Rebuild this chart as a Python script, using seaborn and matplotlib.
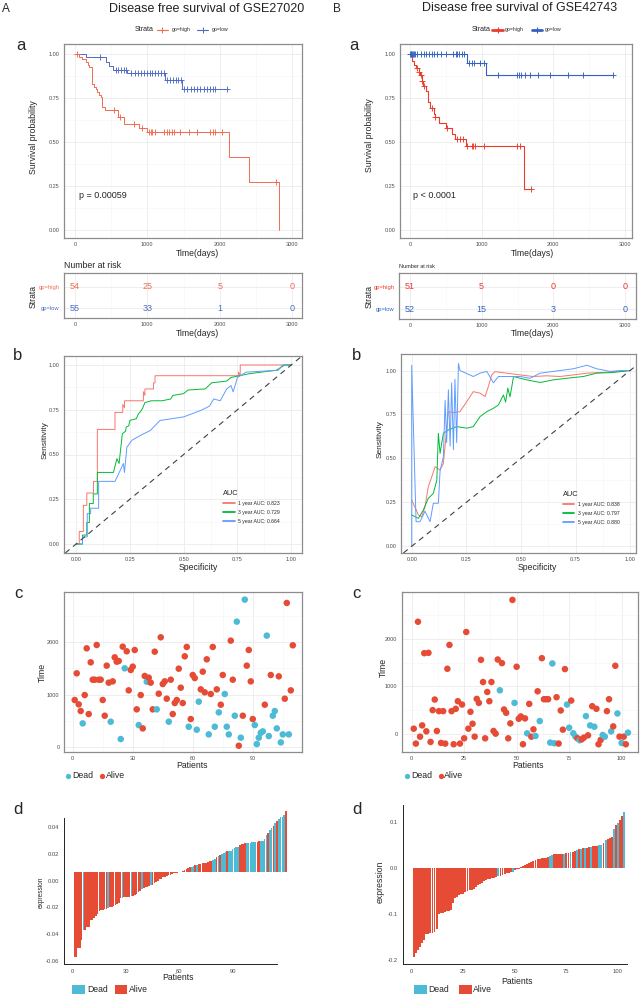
import numpy as np
import pandas as pd
import matplotlib
matplotlib.use("Agg")
from matplotlib import pyplot as plt
from matplotlib.lines import Line2D
from matplotlib.patches import Rectangle
from matplotlib.ticker import MultipleLocator, FormatStrFormatter, FixedLocator, NullLocator
import seaborn as sns

sns.set_style("white")
plt.rcParams["font.family"] = ["Liberation Sans", "DejaVu Sans"]
plt.rcParams["axes.unicode_minus"] = False

W, H = 641, 994

# colours
RED_A, BLUE_A = "#F26B4F", "#4F6BC4"
RED_B, BLUE_B = "#EE3A2A", "#3462BE"
ROC_COLS = ["#F8766D", "#00BA38", "#619CFF"]
RED, CYAN = "#E64B35", "#4DBBD5"

# ---------------- a: Kaplan-Meier
km_a_high_t = [0, 60, 95, 150, 180, 200, 230, 240, 265, 290, 310, 330, 360, 380, 410, 600, 680, 890, 990, 2130, 2400, 2820]
km_a_high_s = [1.0, 0.985, 0.97, 0.955, 0.94, 0.925, 0.91, 0.83, 0.815, 0.80, 0.785, 0.77, 0.755, 0.70, 0.68, 0.64, 0.60, 0.58, 0.555, 0.415, 0.275, 0.0]
km_a_high_end = 2820
km_a_high_cens = [30, 540, 620, 810, 925, 1020, 1045, 1070, 1100, 1225, 1265, 1300, 1335, 1370, 1445, 1570, 1685, 1860, 1910, 1940, 2030, 2775]
km_a_low_t = [0, 150, 430, 470, 520, 715, 1245, 1480]
km_a_low_s = [1.0, 0.985, 0.955, 0.93, 0.91, 0.89, 0.855, 0.80]
km_a_low_end = 2110
km_a_low_cens = [345, 560, 600, 640, 675, 705, 780, 825, 870, 910, 950, 990, 1030, 1070, 1110, 1150, 1190, 1225,
                 1275, 1310, 1350, 1390, 1430, 1470, 1510, 1550, 1600, 1640, 1690, 1730, 1780, 1830, 1870, 1910, 1940, 2100]

km_b_high_t = [0, 30, 60, 90, 120, 140, 165, 185, 220, 245, 275, 340, 350, 400, 500, 590, 625, 780, 1590]
km_b_high_s = [1.0, 0.96, 0.94, 0.92, 0.90, 0.88, 0.845, 0.82, 0.79, 0.73, 0.695, 0.66, 0.64, 0.61, 0.58, 0.545, 0.515, 0.48, 0.235]
km_b_high_end = 1684
km_b_high_cens = [95, 130, 150, 170, 195, 300, 355, 515, 650, 700, 745, 790, 860, 885, 905, 1035, 1490, 1535, 1684]
km_b_low_t = [0, 790, 1055]
km_b_low_s = [1.0, 0.95, 0.88]
km_b_low_end = 2830
km_b_low_cens = [5, 12, 20, 28, 40, 55, 75, 100, 150, 190, 225, 260, 300, 340, 380, 430, 500, 600, 640, 660, 680, 720,
                 760, 820, 860, 890, 980, 1030, 1230, 1490, 1520, 1550, 1600, 1670, 1780, 1950, 2200, 2420, 2830]

risk_times = [0, 1000, 2000, 3000]
risk_a_high = [54, 25, 5, 0]
risk_a_low = [55, 33, 1, 0]
risk_b_high = [51, 5, 0, 0]
risk_b_low = [52, 15, 3, 0]

# ---------------- b: time dependent ROC
roc_a_1y_x = [0.0, 0.015, 0.015, 0.034, 0.034, 0.05, 0.05, 0.081, 0.081, 0.099, 0.099, 0.181, 0.181, 0.217, 0.217, 0.225, 0.225,
              0.313, 0.313, 0.32, 0.32, 0.36, 0.36, 0.367, 0.367, 0.755, 0.755, 0.763, 0.763, 1.0]
roc_a_1y_y = [0.0, 0.0, 0.07, 0.07, 0.216, 0.216, 0.285, 0.285, 0.35, 0.35, 0.64, 0.64, 0.735, 0.735, 0.78, 0.76, 0.80,
              0.80, 0.85, 0.83, 0.866, 0.866, 0.90, 0.90, 0.94, 0.94, 0.96, 0.94, 1.0, 1.0]
roc_a_3y_x = [0.0, 0.03, 0.03, 0.05, 0.05, 0.062, 0.062, 0.08, 0.08, 0.099, 0.099, 0.174, 0.18, 0.19, 0.2, 0.21, 0.215, 0.23,
              0.233, 0.245, 0.25, 0.28, 0.29, 0.3, 0.31, 0.32, 0.35, 0.4, 0.44, 0.45, 0.5, 0.52, 0.6, 0.63, 0.7, 0.72,
              0.8, 0.86, 0.93, 0.97, 1.0]
roc_a_3y_y = [0.0, 0.0, 0.05, 0.05, 0.12, 0.12, 0.226, 0.226, 0.28, 0.28, 0.40, 0.40, 0.43, 0.477, 0.45, 0.56, 0.616, 0.63,
              0.653, 0.66, 0.69, 0.70, 0.727, 0.74, 0.76, 0.79, 0.80, 0.80, 0.81, 0.83, 0.84, 0.86, 0.866, 0.90, 0.91,
              0.93, 0.95, 0.96, 0.97, 1.0, 1.0]
roc_a_5y_x = [0.0, 0.03, 0.03, 0.052, 0.052, 0.068, 0.068, 0.105, 0.105, 0.181, 0.197, 0.22, 0.225, 0.236, 0.26, 0.3, 0.345,
              0.39, 0.5, 0.58, 0.62, 0.64, 0.67, 0.7, 0.72, 0.73, 0.75, 0.79, 0.94, 0.96, 1.0]
roc_a_5y_y = [0.0, 0.0, 0.04, 0.04, 0.17, 0.17, 0.20, 0.20, 0.35, 0.35, 0.39, 0.45, 0.40, 0.54, 0.58, 0.607, 0.634, 0.69,
              0.71, 0.746, 0.77, 0.81, 0.80, 0.866, 0.885, 0.85, 0.93, 0.96, 0.97, 1.0, 1.0]
roc_a_labels = ["1 year AUC: 0.823", "3 year AUC: 0.729", "5 year AUC: 0.664"]

roc_b_1y_x = [0.0, 0.031, 0.046, 0.061, 0.076, 0.092, 0.107, 0.13, 0.145, 0.168, 0.191, 0.221, 0.252, 0.282, 0.313, 0.336,
              0.351, 0.366, 0.382, 0.435, 0.496, 0.557, 0.618, 0.679, 0.74, 0.802, 0.878, 1.0]
roc_b_1y_y = [0.263, 0.178, 0.168, 0.225, 0.339, 0.396, 0.453, 0.434, 0.472, 0.766, 0.761, 0.766, 0.823, 0.88, 0.871, 0.852,
              0.909, 0.975, 0.994, 0.985, 0.975, 0.966, 0.97, 0.966, 0.975, 0.985, 0.989, 1.0]
roc_b_3y_x = [0.0, 0.031, 0.053, 0.076, 0.099, 0.115, 0.122, 0.13, 0.145, 0.168, 0.206, 0.252, 0.282, 0.313, 0.344, 0.374,
              0.397, 0.42, 0.43, 0.44, 0.45, 0.46, 0.466, 0.496, 0.527, 0.588, 0.649, 0.71, 0.786, 0.847, 0.924, 1.0]
roc_b_3y_y = [0.178, 0.159, 0.206, 0.273, 0.301, 0.377, 0.643, 0.529, 0.643, 0.662, 0.681, 0.672, 0.681, 0.738, 0.766, 0.785,
              0.804, 0.861, 0.82, 0.90, 0.85, 0.92, 0.966, 0.956, 0.947, 0.932, 0.947, 0.956, 0.966, 0.985, 0.989, 1.0]
roc_b_5y_x = [0.0, 0.0, 0.02, 0.038, 0.061, 0.084, 0.099, 0.122, 0.13, 0.145, 0.153, 0.16, 0.168, 0.176, 0.183, 0.191, 0.198,
              0.206, 0.214, 0.221, 0.282, 0.313, 0.344, 0.374, 0.397, 0.435, 0.496, 0.542, 0.588, 0.649, 0.74, 0.802,
              0.847, 0.908, 0.954, 1.0]
roc_b_5y_y = [0.0, 1.03, 0.14, 0.14, 0.20, 0.14, 0.245, 0.245, 0.43, 0.51, 0.83, 0.59, 0.89, 0.57, 0.93, 0.55, 0.95, 0.59,
              1.04, 1.0, 0.966, 0.985, 0.995, 0.93, 0.966, 0.966, 0.966, 0.956, 0.985, 0.995, 1.01, 1.03, 1.01, 0.995,
              1.0, 1.0]
roc_b_labels = ["1 year AUC: 0.838", "3 year AUC: 0.797", "5 year AUC: 0.880"]

# ---------------- c: survival time per patient
sc_a_time = [895, 1406, 812, 684, 447, 990, 1885, 626, 1617, 1284,
             1284, 1949, 1284, 1284, 895, 594, 1553, 1227, 479, 1252,
             1712, 1629, 1642, 147, 1917, 1502, 1828, 1080, 1470, 1534,
             1853, 716, 415, 990, 351, 1355, 1246, 1323, 1227, 716,
             1821, 716, 1016, 2096, 1201, 1252, 920, 479, 1284, 626,
             837, 895, 1495, 1131, 837, 1732, 1911, 383, 530, 1374,
             1316, 326, 863, 1099, 1438, 1042, 1674, 236, 1010, 1911,
             383, 1099, 658, 805, 1374, 1010, 383, 236, 2032, 1284,
             594, 2396, 19, 173, 594, 2818, 1553, 1853, 1252, 530,
             415, 51, 173, 268, 294, 805, 2128, 204, 1374, 594,
             684, 351, 1348, 83, 236, 920, 2754, 236, 1080, 1943]
sc_a_dead = [5, 19, 24, 26, 33, 37, 42, 48, 58, 62, 63, 68, 71, 73, 76, 77, 78, 81, 82, 84, 86, 91, 92, 93, 94, 95,
             97, 98, 100, 101, 102, 104, 105, 108]

sc_b_time = [112, -202, 2363, -56, 181, 1701, 56, 1708, -167, 502,
             725, 63, 481, -188, 481, -202, 1373, 1875, 481, -216,
             530, 690, -202, 620, -91, 2147, 112, 467, 216, -56,
             739, 655, 1561, 1094, -91, 885, 690, 1094, 63, 7,
             1568, 920, 1492, 516, 446, -91, 223, 2823, 655, 1415,
             321, 369, -216, 328, 14, 634, -56, 98, -42, 899,
             272, 1596, 732, 732, 732, -181, 1485, -195, 774, -202,
             495, 91, 1366, 620, 132, 704, 14, -56, -91, -132,
             -112, -77, 376, -28, 181, 585, 153, 530, -216, -125,
             -21, -56, 481, 732, 56, 160, 1436, 432, -56, -188,
             -56, -216, 28]
sc_b_dead = [42, 49, 55, 59, 61, 66, 67, 68, 74, 75, 77, 78, 80, 83, 85, 87, 91, 92, 95, 98, 100, 103]

# ---------------- d: risk score waterfall
bar_a_base = 0.0062
bar_a_vals = [-0.0570, -0.0570, -0.0505, -0.0500, -0.0440, -0.0370, -0.0370, -0.0345, -0.0345, -0.0290,
              -0.0290, -0.0280, -0.0265, -0.0250, -0.0225, -0.0220, -0.0215, -0.0212, -0.0210, -0.0205,
              -0.0200, -0.0198, -0.0190, -0.0180, -0.0175, -0.0170, -0.0130, -0.0128, -0.0125, -0.0122,
              -0.0120, -0.0118, -0.0115, -0.0112, -0.0108, -0.0100, -0.0085, -0.0080, -0.0060, -0.0055,
              -0.0050, -0.0048, -0.0040, -0.0030, -0.0028, -0.0020, -0.0010, 0.0000, 0.0010, 0.0015,
              0.0025, 0.0030, 0.0035, 0.0040, 0.0045, 0.0050, 0.0055, 0.0058, 0.0060, 0.0062,
              0.0065, 0.0070, 0.0078, 0.0090, 0.0095, 0.0100, 0.0105, 0.0110, 0.0115, 0.0120,
              0.0125, 0.0128, 0.0130, 0.0132, 0.0135, 0.0140, 0.0145, 0.0150, 0.0158, 0.0165,
              0.0175, 0.0185, 0.0190, 0.0200, 0.0210, 0.0215, 0.0220, 0.0222, 0.0225, 0.0235,
              0.0245, 0.0250, 0.0255, 0.0265, 0.0275, 0.0278, 0.0280, 0.0282, 0.0284, 0.0286,
              0.0288, 0.0290, 0.0292, 0.0294, 0.0296, 0.0298, 0.0300, 0.0310, 0.0340, 0.0360,
              0.0380, 0.0395, 0.0410, 0.0430, 0.0445, 0.0460, 0.0475, 0.0480, 0.0490, 0.0525]
bar_a_dead = [6, 20, 28, 33, 39, 44, 67, 68, 70, 79, 80, 82, 84, 85, 86, 88, 89, 90, 91, 92, 93, 98, 99, 100, 101,
              102, 103, 106, 107, 108, 109, 111, 112, 114, 116, 117, 118, 119]

bar_b_base = 0.0
bar_b_vals = [-0.192, -0.185, -0.178, -0.171, -0.162, -0.156, -0.144, -0.143, -0.142, -0.141,
              -0.138, -0.133, -0.099, -0.097, -0.097, -0.095, -0.094, -0.093, -0.092, -0.077,
              -0.066, -0.063, -0.059, -0.057, -0.056, -0.052, -0.050, -0.048, -0.047, -0.045,
              -0.041, -0.037, -0.035, -0.032, -0.029, -0.027, -0.025, -0.024, -0.022, -0.021,
              -0.019, -0.018, -0.017, -0.016, -0.014, -0.012, -0.011, -0.009, -0.008, -0.005,
              -0.003, -0.002, 0.002, 0.004, 0.007, 0.009, 0.011, 0.013, 0.015, 0.018,
              0.020, 0.020, 0.021, 0.022, 0.022, 0.024, 0.025, 0.027, 0.029, 0.030,
              0.030, 0.030, 0.031, 0.031, 0.032, 0.033, 0.034, 0.035, 0.036, 0.038,
              0.040, 0.041, 0.042, 0.043, 0.044, 0.045, 0.045, 0.047, 0.048, 0.048,
              0.049, 0.050, 0.053, 0.060, 0.063, 0.065, 0.067, 0.083, 0.092, 0.096,
              0.103, 0.112, 0.121]
bar_b_dead = [42, 49, 67, 68, 74, 77, 80, 82, 84, 87, 91, 92, 94, 98, 100, 103]


fig = plt.figure(figsize=(6.41, 9.94), dpi=100)


def px_rect(x0, y0, x1, y1):
    return [x0 / W, 1 - y1 / H, (x1 - x0) / W, (y1 - y0) / H]


def ftext(x, y, s, **kw):
    kw.setdefault("ha", "center")
    kw.setdefault("va", "center")
    fig.text(x / W, 1 - y / H, s, **kw)


def fline(x0, x1, y, **kw):
    fig.add_artist(Line2D([x0 / W, x1 / W], [1 - y / H] * 2, transform=fig.transFigure, **kw))


def fmark(x, y, **kw):
    fig.add_artist(Line2D([x / W], [1 - y / H], transform=fig.transFigure, **kw))


def fsquare(x0, x1, y0, y1, color):
    fig.add_artist(Rectangle((x0 / W, 1 - y1 / H), (x1 - x0) / W, (y1 - y0) / H,
                             transform=fig.transFigure, color=color, lw=0))


def bw(ax, xmaj, ymaj, xfmt="%d", yfmt="%.2f"):
    ax.xaxis.set_major_locator(MultipleLocator(xmaj))
    ax.xaxis.set_minor_locator(MultipleLocator(xmaj / 2))
    ax.yaxis.set_major_locator(MultipleLocator(ymaj))
    ax.yaxis.set_minor_locator(MultipleLocator(ymaj / 2))
    ax.xaxis.set_major_formatter(FormatStrFormatter(xfmt))
    ax.yaxis.set_major_formatter(FormatStrFormatter(yfmt))
    ax.grid(which="major", color="#EBEBEB", lw=0.6)
    ax.grid(which="minor", color="#F5F5F5", lw=0.4)
    ax.set_axisbelow(True)
    for sp in ax.spines.values():
        sp.set_visible(True)
        sp.set_color("#8C8C8C")
        sp.set_linewidth(0.9)
    ax.tick_params(which="major", labelsize=4, labelcolor="#4D4D4D", length=2, width=0.5,
                   color="#333333", pad=1.2)
    ax.tick_params(which="minor", length=0)
    ax.set_xlabel("")
    ax.set_ylabel("")


def km_curve(ax, t, s, end, cens, color, lw):
    tt = list(t) + [end]
    ss = list(s) + [s[-1]]
    sns.lineplot(x=tt, y=ss, drawstyle="steps-post", estimator=None, sort=False, color=color, lw=lw, ax=ax)
    idx = np.searchsorted(t, cens, side="right") - 1
    sns.scatterplot(x=cens, y=np.asarray(s)[idx], marker="+", color=color, s=18, linewidth=0.65, ax=ax, zorder=3)


def km_panel(rect, high, low, c_high, c_low, xlim, lw):
    ax = fig.add_axes(rect)
    km_curve(ax, *high, c_high, lw)
    km_curve(ax, *low, c_low, lw)
    ax.set_xlim(xlim)
    ax.set_ylim(-0.045, 1.057)
    bw(ax, 1000, 0.25)
    return ax


def risk_panel(rect, high, low, c_high, c_low, xlim):
    ax = fig.add_axes(rect)
    for tm, h, l in zip(risk_times, high, low):
        ax.text(tm, 1, str(h), color=c_high, ha="center", va="center", fontsize=6.5)
        ax.text(tm, 0, str(l), color=c_low, ha="center", va="center", fontsize=6.5)
    ax.set_xlim(xlim)
    ax.set_ylim(-0.45, 1.63)
    bw(ax, 1000, 1)
    ax.yaxis.set_major_locator(FixedLocator([0, 1]))
    ax.yaxis.set_minor_locator(NullLocator())
    ax.set_yticklabels(["gp=low", "gp=high"])
    for lab, c in zip(ax.get_yticklabels(), [c_low, c_high]):
        lab.set_color(c)
        lab.set_fontsize(4.2)
    return ax


def roc_panel(rect, curves, labels, xlim, ylim, anchor):
    ax = fig.add_axes(rect)
    for (x, y), lab, col in zip(curves, labels, ROC_COLS):
        sns.lineplot(x=x, y=y, sort=False, estimator=None, color=col, lw=0.7, ax=ax, label=lab)
    ax.axline((0, 0), (1, 1), color="#404040", lw=0.8, ls=(0, (5, 4)))
    ax.set_xlim(xlim)
    ax.set_ylim(ylim)
    bw(ax, 0.25, 0.25, "%.2f", "%.2f")
    leg = ax.legend(title="AUC", loc="upper left", bbox_to_anchor=anchor, frameon=False, fontsize=3.7,
                    title_fontsize=5.3, handlelength=2.2, labelspacing=0.75, borderaxespad=0,
                    handletextpad=0.6, borderpad=0)
    leg._legend_box.align = "left"
    for h in leg.get_lines():
        h.set_linewidth(1.3)
    return ax


def scatter_panel(rect, times, dead, xlim, ylim, xmaj):
    ax = fig.add_axes(rect)
    df = pd.DataFrame({"patient": np.arange(1, len(times) + 1), "time": times})
    df["status"] = np.where(df["patient"].isin(dead), "Dead", "Alive")
    sns.scatterplot(data=df, x="patient", y="time", hue="status", palette={"Dead": CYAN, "Alive": RED},
                    s=22, linewidth=0, ax=ax, legend=False)
    ax.set_xlim(xlim)
    ax.set_ylim(ylim)
    bw(ax, xmaj, 1000, "%d", "%d")
    return ax


def waterfall(rect, vals, dead, base, xlim, ylim, xmaj, ymaj, yfmt):
    ax = fig.add_axes(rect)
    x = np.arange(1, len(vals) + 1)
    cols = [CYAN if i in dead else RED for i in x]
    ax.bar(x, np.asarray(vals) - base, bottom=base, width=0.92, color=cols, linewidth=0, clip_on=False)
    ax.set_xlim(xlim)
    ax.set_ylim(ylim)
    ax.xaxis.set_major_locator(MultipleLocator(xmaj))
    ax.yaxis.set_major_locator(MultipleLocator(ymaj))
    ax.yaxis.set_major_formatter(FormatStrFormatter(yfmt))
    sns.despine(ax=ax)
    for sp in ["left", "bottom"]:
        ax.spines[sp].set_color("#222222")
        ax.spines[sp].set_linewidth(0.7)
    ax.tick_params(labelsize=4.2, labelcolor="#4D4D4D", length=2, width=0.5, pad=1.5)
    ax.set_facecolor("none")
    return ax


# ================= column A (GSE27020)
ftext(2, 9, "A", ha="left", fontsize=8.5)
ftext(207, 9, "Disease free survival of GSE27020", fontsize=9, color="#222222")
ftext(135, 29.5, "Strata", ha="left", fontsize=5.1)
fline(157, 168, 29.5, color=RED_A, lw=0.8)
fmark(162.5, 29.5, marker="+", color=RED_A, markersize=4, mew=0.7)
ftext(172, 29.5, "gp=high", ha="left", fontsize=3.7)
fline(197, 208, 29.5, color=BLUE_A, lw=0.8)
fmark(202.5, 29.5, marker="+", color=BLUE_A, markersize=4, mew=0.7)
ftext(212, 29.5, "gp=low", ha="left", fontsize=3.7)

ftext(21, 45, "a", fontsize=12)
km_panel(px_rect(64, 44, 302, 238),
         (km_a_high_t, km_a_high_s, km_a_high_end, km_a_high_cens),
         (km_a_low_t, km_a_low_s, km_a_low_end, km_a_low_cens),
         RED_A, BLUE_A, (-152, 3138), 0.7)
ftext(33, 137, "Survival probability", rotation=90, fontsize=6.3)
ftext(79, 195, "p = 0.00059", ha="left", fontsize=6.5)
ftext(197, 254, "Time(days)", fontsize=6.2)

ftext(64, 266, "Number at risk", ha="left", fontsize=6.3)
risk_panel(px_rect(64, 273, 302, 318), risk_a_high, risk_a_low, RED_A, BLUE_A, (-152, 3138))
ftext(33, 297, "Strata", rotation=90, fontsize=6.2)
ftext(197, 334, "Time(days)", fontsize=6.2)

ftext(18, 355, "b", fontsize=12)
roc_panel(px_rect(64, 356, 302, 553),
          [(roc_a_1y_x, roc_a_1y_y), (roc_a_3y_x, roc_a_3y_y), (roc_a_5y_x, roc_a_5y_y)],
          roc_a_labels, (-0.056, 1.05), (-0.05, 1.05), (0.67, 0.32))
ftext(45, 440, "Sensitivity", rotation=90, fontsize=6)
ftext(198, 568, "Specificity", fontsize=6.2)

ftext(18, 594, "c", fontsize=12)
scatter_panel(px_rect(64, 592, 302, 752), sc_a_time, sc_a_dead, (-4.35, 114.6), (-101, 2964), 30)
ftext(42, 672, "Time", rotation=90, fontsize=6.3)
ftext(192, 766, "Patients", fontsize=6.2)
fmark(68, 776, marker="o", color=CYAN, markersize=3.8, mew=0)
ftext(72, 776, "Dead", ha="left", fontsize=6.3)
fmark(102, 776, marker="o", color=RED, markersize=3.8, mew=0)
ftext(106, 776, "Alive", ha="left", fontsize=6.3)

ftext(18, 810, "d", fontsize=12)
waterfall(px_rect(64, 818, 277, 964), bar_a_vals, bar_a_dead, bar_a_base,
          (-4.9, 115), (-0.0623, 0.047), 30, 0.02, "%.2f")
ftext(41, 892, "expression", rotation=90, fontsize=4.7)
ftext(178, 977, "Patients", fontsize=6.2)
fsquare(72, 85, 985, 994, CYAN)
ftext(87, 989, "Dead", ha="left", fontsize=6.2)
fsquare(115, 127, 985, 994, RED)
ftext(129, 989, "Alive", ha="left", fontsize=6.2)

# ================= column B (GSE42743)
ftext(337, 9, "B", fontsize=8.5)
ftext(520, 8, "Disease free survival of GSE42743", fontsize=9, color="#222222")
ftext(472, 29.5, "Strata", ha="left", fontsize=5.1)
fline(492, 503, 29.5, color=RED_B, lw=2)
fmark(497.5, 29.5, marker="+", color=RED_B, markersize=4, mew=0.8)
ftext(505, 29.5, "gp=high", ha="left", fontsize=3.7)
fline(532, 542, 29.5, color=BLUE_B, lw=2)
fmark(537, 29.5, marker="+", color=BLUE_B, markersize=4, mew=0.8)
ftext(545, 29.5, "gp=low", ha="left", fontsize=3.7)

ftext(354, 45, "a", fontsize=12)
km_panel(px_rect(400, 44, 632, 238),
         (km_b_high_t, km_b_high_s, km_b_high_end, km_b_high_cens),
         (km_b_low_t, km_b_low_s, km_b_low_end, km_b_low_cens),
         RED_B, BLUE_B, (-140, 3098), 0.8)
ftext(369, 135, "Survival probability", rotation=90, fontsize=6.3)
ftext(413, 195, "p < 0.0001", ha="left", fontsize=6.5)
ftext(532, 254, "Time(days)", fontsize=6.2)

ftext(399, 267, "Number at risk", ha="left", fontsize=4)
risk_panel(px_rect(399, 273, 636, 319), risk_b_high, risk_b_low, RED_B, BLUE_B, (-153, 3153))
ftext(369, 297, "Strata", rotation=90, fontsize=6.2)
ftext(532, 334, "Time(days)", fontsize=6.2)

ftext(357, 355, "b", fontsize=12)
roc_panel(px_rect(401, 354, 636, 553),
          [(roc_b_1y_x, roc_b_1y_y), (roc_b_3y_x, roc_b_3y_y), (roc_b_5y_x, roc_b_5y_y)],
          roc_b_labels, (-0.049, 1.027), (-0.038, 1.094), (0.69, 0.31))
ftext(380, 439, "Sensitivity", rotation=90, fontsize=6)
ftext(537, 568, "Specificity", fontsize=6.2)

ftext(356, 594, "c", fontsize=12)
scatter_panel(px_rect(402, 592, 638, 752), sc_b_time, sc_b_dead, (-4.6, 107.8), (-379, 2989), 25)
ftext(383, 667, "Time", rotation=90, fontsize=6.3)
ftext(528, 766, "Patients", fontsize=6.2)
fmark(407, 776, marker="o", color=CYAN, markersize=3.8, mew=0)
ftext(411, 776, "Dead", ha="left", fontsize=6.3)
fmark(441, 776, marker="o", color=RED, markersize=3.8, mew=0)
ftext(444, 776, "Alive", ha="left", fontsize=6.3)

ftext(357, 810, "d", fontsize=12)
waterfall(px_rect(403, 805, 627, 964), bar_b_vals, bar_b_dead, bar_b_base,
          (-4.3, 104.4), (-0.208, 0.136), 25, 0.1, "%.1f")
ftext(380, 882, "expression", rotation=90, fontsize=6.2)
ftext(517, 981, "Patients", fontsize=6.2)
fsquare(414, 427, 985, 994, CYAN)
ftext(428, 989, "Dead", ha="left", fontsize=6.2)
fsquare(459, 472, 985, 994, RED)
ftext(473, 989, "Alive", ha="left", fontsize=6.2)

fig.savefig("out.png", dpi=100)
